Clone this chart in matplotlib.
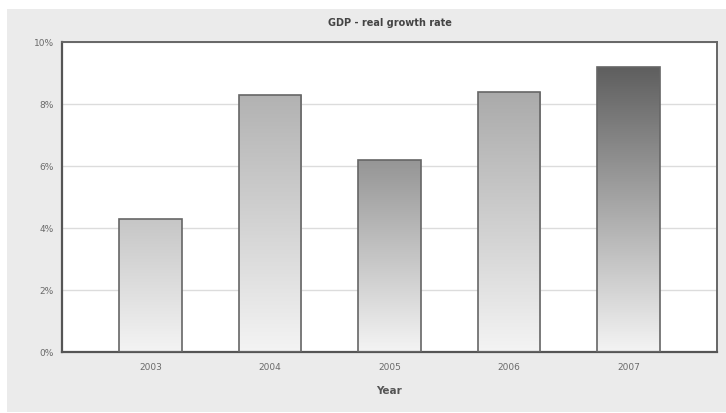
import matplotlib
matplotlib.use("Agg")
import matplotlib.pyplot as plt
from matplotlib.patches import Rectangle
from matplotlib.colors import LinearSegmentedColormap
import numpy as np

# GDP real growth rate by year (%)
years = ["2003", "2004", "2005", "2006", "2007"]
growth = [4.3, 8.3, 6.2, 8.4, 9.2]
y_ticks = [0, 2, 4, 6, 8, 10]

# top shade of each bar's gradient (fades to near white at the base)
top_shades = ["#c6c6c6", "#b2b2b2", "#959595", "#aaaaaa", "#5e5e5e"]

fig = plt.figure(figsize=(7.26, 4.14), dpi=100)
fig.patch.set_facecolor("white")
# grey panel behind the chart
fig.patches.append(Rectangle((7 / 726, 1 / 414), 1, 1 - 11 / 414,
                             transform=fig.transFigure, facecolor="#ebebeb",
                             edgecolor="none", zorder=-10))

ax = fig.add_axes([62 / 726, 1 - 353 / 414, 655 / 726, 310 / 414])
ax.set_facecolor("white")

x = np.arange(len(years))
bars = ax.bar(x, growth, width=0.52, facecolor="none",
              edgecolor="#666666", linewidth=1.2, zorder=3)

# vertical gradient fill clipped to each bar
grad = np.linspace(1, 0, 256).reshape(-1, 1)
for rect, shade in zip(bars, top_shades):
    cmap = LinearSegmentedColormap.from_list("g", ["#f4f4f4", shade])
    bx, bw, bh = rect.get_x(), rect.get_width(), rect.get_height()
    im = ax.imshow(grad, cmap=cmap, vmin=0, vmax=1, aspect="auto",
                   extent=(bx, bx + bw, 0, bh), zorder=2)
    im.set_clip_path(rect)

ax.set_xlim(-0.74, len(years) - 1 + 0.74)
ax.set_ylim(0, 10)
ax.set_yticks(y_ticks)
ax.set_yticklabels([f"{t}%" for t in y_ticks])
ax.set_xticks(x)
ax.set_xticklabels(years)
ax.tick_params(axis="both", length=0, labelsize=6.5, labelcolor="#6a6a6a")
ax.tick_params(axis="y", pad=6)
ax.tick_params(axis="x", pad=7)
ax.grid(axis="y", color="#dcdcdc", linewidth=1, zorder=1)
ax.set_axisbelow(True)

for side in ["left", "bottom"]:
    ax.spines[side].set_color("#555555")
    ax.spines[side].set_linewidth(1.6)
for side in ["top", "right"]:
    ax.spines[side].set_color("#666666")
    ax.spines[side].set_linewidth(1.4)

ax.set_title("GDP - real growth rate", fontsize=7, color="#444444",
             fontweight="bold", pad=12)
ax.set_xlabel("Year", fontsize=7.5, color="#555555", fontweight="bold",
              labelpad=10)

fig.savefig("out.png", dpi=100)
